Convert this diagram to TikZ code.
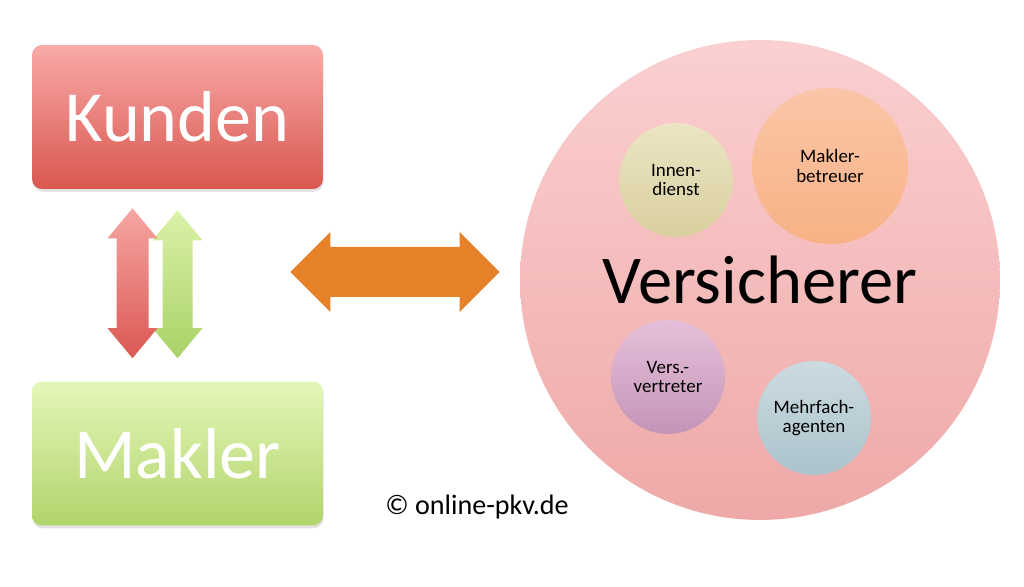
\documentclass[tikz,border=0pt]{standalone}
\usepackage{fontspec}
\setmainfont{Carlito}
\usetikzlibrary{calc,shadows}
\definecolor{kundtop}{HTML}{F9AAA8}
\definecolor{kundbot}{HTML}{D9574F}
\definecolor{maktop}{HTML}{E4F7BA}
\definecolor{makbot}{HTML}{B1D46B}
\definecolor{redtop}{HTML}{F6A6A4}
\definecolor{redbot}{HTML}{DB5852}
\definecolor{grntop}{HTML}{DAF1A9}
\definecolor{grnbot}{HTML}{A9D266}
\definecolor{orng}{HTML}{E8822A}
\definecolor{verstop}{HTML}{FBCFD0}
\definecolor{versbot}{HTML}{EEA9A8}
\definecolor{idtop}{HTML}{ECE5C4}
\definecolor{idbot}{HTML}{D9CF9E}
\definecolor{mbtop}{HTML}{FAC6A7}
\definecolor{mbbot}{HTML}{F8B185}
\definecolor{vvtop}{HTML}{E5C0DA}
\definecolor{vvbot}{HTML}{C594B7}
\definecolor{matop}{HTML}{CCDBE0}
\definecolor{mabot}{HTML}{ABC3CC}
\tikzset{
  bigbox/.style  = {rounded corners=0.2cm, minimum width=5.82cm,
                    minimum height=2.88cm, inner sep=0pt, text=white,
                    font=\fontsize{41}{49}\selectfont,
                    drop shadow={shadow xshift=0.4pt, shadow yshift=-1.6pt,
                                 opacity=0.22}},
  bigcirc/.style = {circle, minimum size=9.6cm, inner sep=0pt,
                    top color=verstop, bottom color=versbot,
                    font=\fontsize{39}{46}\selectfont},
  subcirc/.style = {circle, minimum size=2.28cm, inner sep=0pt, align=center,
                    font=\fontsize{10.8}{11.2}\selectfont},
  redarr/.style  = {top color=redtop, bottom color=redbot},
  grnarr/.style  = {top color=grntop, bottom color=grnbot},
  orarr/.style   = {fill=orng},
  lbl/.style     = {font=\fontsize{16}{19}\selectfont, inner sep=1pt},
}
\begin{document}
\begin{tikzpicture}[x=0.02cm,y=-0.02cm]
  \useasboundingbox (0,0) rectangle (1024,587);
  % left column
  \node[bigbox, top color=kundtop, bottom color=kundbot] (kunden) at (177.5,117) {Kunden};
  \node[bigbox, top color=maktop, bottom color=makbot] (makler) at (177.5,453.5) {Makler};
  % the two up/down arrows
  \coordinate (rt) at ($(kunden.south)+(-45,19)$);
  \coordinate (rb) at ($(makler.north)+(-45,-23)$);
  \coordinate (gt) at ($(kunden.south)+(0,21)$);
  \coordinate (gb) at ($(makler.north)+(0,-23)$);
  \shade[grnarr] (gt) -- ++(25,30) -- ++(-10,0) -- ($(gb)+(15,-30)$) -- ++(10,0)
    -- (gb) -- ++(-25,-30) -- ++(10,0) -- ($(gt)+(-15,30)$) -- ++(-10,0) -- cycle;
  \shade[redarr] (rt) -- ++(25,30) -- ++(-9,0) -- ($(rb)+(16,-30)$) -- ++(9,0)
    -- (rb) -- ++(-25,-30) -- ++(9,0) -- ($(rt)+(-16,30)$) -- ++(-9,0) -- cycle;
  % insurer
  \node[bigcirc] (vers) at (760,280) {Versicherer};
  \node[subcirc, top color=idtop, bottom color=idbot] (innen) at (676,180) {Innen-\\dienst};
  \node[subcirc, minimum size=3.12cm, top color=mbtop, bottom color=mbbot] (mbetr) at (830,166) {Makler-\\betreuer};
  \node[subcirc, top color=vvtop, bottom color=vvbot] (vvert) at (668,377) {Vers.-\\vertreter};
  \node[subcirc, top color=matop, bottom color=mabot] (magent) at (814,418) {Mehrfach-\\agenten};
  % the wide arrow
  \coordinate (ol) at ($(kunden.east)+(-33,155)$);
  \coordinate (or) at ($(vers.west)+(-20,-8)$);
  \fill[orarr] (ol) -- ++(40,-40) -- ++(0,15) -- ($(or)+(-40,-25)$) -- ++(0,-15)
    -- (or) -- ++(-40,40) -- ++(0,-15) -- ($(ol)+(40,25)$) -- ++(0,15) -- cycle;
  \node[lbl] (copy) at (477,507) {© online-pkv.de};
\end{tikzpicture}
\end{document}
